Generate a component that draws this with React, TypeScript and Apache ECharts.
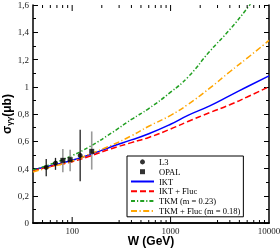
import React, { useEffect, useRef } from 'react';
import * as echarts from 'echarts';

// W (GeV) sample points for the theory curves
const W_GRID = [40, 60, 100, 150, 250, 400, 600, 1000, 1500, 2500, 4000, 6000, 10000];
const IKT = [0.39, 0.42, 0.46, 0.5, 0.56, 0.61, 0.655, 0.725, 0.79, 0.86, 0.935, 1.0, 1.08];
const IKT_FLUC = [0.385, 0.415, 0.45, 0.49, 0.545, 0.59, 0.628, 0.69, 0.745, 0.81, 0.868, 0.925, 1.0];
const TKM_W = [40, 60, 100, 150, 250, 400, 600, 1000, 1500, 2500, 4000, 6000, 6500];
const TKM = [0.39, 0.43, 0.495, 0.56, 0.66, 0.76, 0.84, 0.96, 1.07, 1.26, 1.42, 1.575, 1.61];
const TKM_FLUC = [0.375, 0.41, 0.455, 0.505, 0.57, 0.64, 0.71, 0.79, 0.87, 0.99, 1.11, 1.21, 1.34];

// Data points: W, sigma, error-bar low/high
const L3_W = [54.5, 67.7, 120.6];
const L3_S = [0.408, 0.44, 0.496];
const L3_LO = [0.343, 0.39, 0.306];
const L3_HI = [0.47, 0.478, 0.684];
const OPAL_W = [80.4, 95.4, 158];
const OPAL_S = [0.46, 0.465, 0.526];
const OPAL_LO = [0.372, 0.379, 0.392];
const OPAL_HI = [0.543, 0.538, 0.672];

// Axis ticks
const X_MAJOR = [100, 1000];
const X_MINOR_BOTTOM = [50, 60, 70, 80, 90, 300, 400, 500, 600, 700, 800, 900, 3000, 4000, 5000, 6000, 7000, 8000, 9000];
const X_MINOR_TOP = [50, 60, 70, 80, 90, 200, 300, 400, 500, 600, 700, 800, 900, 2000, 3000, 4000, 5000, 6000, 7000, 8000, 9000];
const X_LABELS = [100, 1000, 10000];

const SERIF = 'Liberation Serif';
const SANS = 'Liberation Sans';
const HIDE_SYMBOL = { color: 'rgba(0,0,0,0)', borderWidth: 0, opacity: 0 };

export default function App() {
  const ref = useRef<HTMLDivElement>(null);
  useEffect(() => {
    document.body.style.margin = '0';
    if (!ref.current) return;
    const chart = echarts.init(ref.current, undefined, { renderer: 'svg' });

    const errRender = (color: string, width: number) => (params: any, api: any) => {
      const x = api.value(0);
      const p1 = api.coord([x, api.value(1)]);
      const p2 = api.coord([x, api.value(2)]);
      return {
        type: 'line',
        shape: { x1: p1[0], y1: p1[1], x2: p2[0], y2: p2[1] },
        style: { stroke: color, lineWidth: width },
      };
    };

    const tickData = [
      ...X_MAJOR.map((v) => [v, 0, 1, 1]),
      ...X_MINOR_BOTTOM.map((v) => [v, 0, 0, 0]),
      ...X_MINOR_TOP.map((v) => [v, 0, 0, 1]),
    ];

    const tickRender = (params: any, api: any) => {
      const v = api.value(0);
      const major = api.value(2) === 1;
      const both = api.value(3) === 1;
      const b = api.coord([v, 0]);
      const t = api.coord([v, 1.6]);
      const len = major ? 6 : 3;
      const children: any[] = [];
      const stroke = { stroke: '#000', lineWidth: 1 };
      if (major || !both) {
        children.push({ type: 'line', shape: { x1: b[0], y1: b[1], x2: b[0], y2: b[1] - len }, style: stroke });
      }
      if (major || both) {
        children.push({ type: 'line', shape: { x1: t[0], y1: t[1], x2: t[0], y2: t[1] + len }, style: stroke });
      }
      return { type: 'group', children };
    };

    const yAxisBase = {
      type: 'value',
      min: 0,
      max: 1.6,
      interval: 0.2,
      splitLine: { show: false },
      axisLine: { show: true, lineStyle: { color: '#000', width: 1.5 } },
      axisTick: { show: true, inside: true, length: 5, lineStyle: { color: '#000', width: 1 } },
      minorTick: { show: true, splitNumber: 2, length: 3, lineStyle: { color: '#000', width: 1 } },
    };

    const option: any = {
      animation: false,
      grid: { left: 33, right: 11, top: 5, bottom: 26, containLabel: false, outerBoundsMode: 'none' },
      legend: {
        orient: 'vertical',
        left: 127,
        top: 156,
        itemWidth: 23,
        itemHeight: 5,
        itemGap: 0,
        padding: [1, 3, 1, 3],
        borderColor: '#000',
        borderWidth: 1,
        backgroundColor: '#fff',
        textStyle: { fontFamily: SERIF, fontSize: 8.5, color: '#000', lineHeight: 9.8 },
        data: [
          { name: 'L3', icon: 'circle' },
          { name: 'OPAL', icon: 'path://M0,0L10,0L10,10L0,10Z' },
          { name: 'IKT', itemStyle: HIDE_SYMBOL },
          { name: 'IKT + Fluc', itemStyle: HIDE_SYMBOL },
          { name: 'TKM (m = 0.23)', itemStyle: HIDE_SYMBOL },
          { name: 'TKM + Fluc (m = 0.18)', itemStyle: HIDE_SYMBOL },
        ],
      },
      xAxis: [
        {
          type: 'log',
          logBase: 10,
          min: 40,
          max: 10000,
          name: 'W (GeV)',
          nameLocation: 'middle',
          nameGap: 12,
          nameMoveOverlap: false,
          nameTextStyle: { fontFamily: SANS, fontWeight: 'bold', fontSize: 12, color: '#000' },
          splitLine: { show: false },
          axisLine: { show: true, lineStyle: { color: '#000', width: 1.5 } },
          axisTick: { show: false },
          axisLabel: {
            fontFamily: SERIF,
            fontSize: 9,
            color: '#222',
            margin: 3,
            showMinLabel: false,
            hideOverlap: false,
            formatter: (v: number) => {
              const r = Math.round(v);
              return X_LABELS.indexOf(r) >= 0 ? String(r) : '';
            },
          },
        },
        {
          type: 'log',
          logBase: 10,
          min: 40,
          max: 10000,
          position: 'top',
          splitLine: { show: false },
          axisLine: { show: true, lineStyle: { color: '#000', width: 1.5 } },
          axisTick: { show: false },
          axisLabel: { show: false },
        },
      ],
      yAxis: [
        {
          ...yAxisBase,
          position: 'left',
          name: '{s|σ}{g|γγ}{s|(μb)}',
          nameLocation: 'middle',
          nameGap: 20,
          nameMoveOverlap: false,
          nameTextStyle: {
            rich: {
              s: { fontFamily: SANS, fontWeight: 'bold', fontSize: 12, color: '#000' },
              g: { fontFamily: SANS, fontWeight: 'bold', fontSize: 8, color: '#000', verticalAlign: 'bottom', padding: [4, 0, 0, 0] },
            },
          },
          axisLabel: {
            fontFamily: SERIF,
            fontSize: 9,
            color: '#222',
            margin: 4,
            formatter: (v: number) => (v === 0 ? '0' : String(+v.toFixed(1)).replace('.', ',')),
          },
        },
        {
          ...yAxisBase,
          position: 'right',
          axisLabel: { show: false },
        },
      ],
      series: [
        {
          type: 'custom',
          silent: true,
          xAxisIndex: 0,
          yAxisIndex: 0,
          clip: false,
          renderItem: tickRender,
          encode: { x: 0, y: 1 },
          data: tickData,
          z: 5,
        },
        {
          name: 'IKT',
          type: 'line',
          data: W_GRID.map((w, i) => [w, IKT[i]]),
          smooth: true,
          symbol: 'none',
          lineStyle: { color: '#0000ff', width: 1.5 },
          itemStyle: { color: '#0000ff' },
        },
        {
          name: 'IKT + Fluc',
          type: 'line',
          data: W_GRID.map((w, i) => [w, IKT_FLUC[i]]),
          smooth: true,
          symbol: 'none',
          lineStyle: { color: '#ff0000', width: 1.5, type: [6, 3] },
          itemStyle: { color: '#ff0000' },
        },
        {
          name: 'TKM (m = 0.23)',
          type: 'line',
          data: TKM_W.map((w, i) => [w, TKM[i]]),
          smooth: true,
          symbol: 'none',
          lineStyle: { color: '#22a022', width: 1.5, type: [4, 2, 1.2, 2] },
          itemStyle: { color: '#22a022' },
        },
        {
          name: 'TKM + Fluc (m = 0.18)',
          type: 'line',
          data: W_GRID.map((w, i) => [w, TKM_FLUC[i]]),
          smooth: true,
          symbol: 'none',
          lineStyle: { color: '#ffa500', width: 1.5, type: [6, 2.5, 1.2, 2.5] },
          itemStyle: { color: '#ffa500' },
        },
        {
          type: 'custom',
          silent: true,
          renderItem: errRender('#222', 1.3),
          encode: { x: 0, y: [1, 2] },
          data: L3_W.map((w, i) => [w, L3_LO[i], L3_HI[i]]),
          z: 6,
        },
        {
          type: 'custom',
          silent: true,
          renderItem: errRender('#9a9a9a', 1.6),
          encode: { x: 0, y: [1, 2] },
          data: OPAL_W.map((w, i) => [w, OPAL_LO[i], OPAL_HI[i]]),
          z: 6,
        },
        {
          name: 'L3',
          type: 'scatter',
          symbol: 'circle',
          symbolSize: 5,
          itemStyle: { color: '#000' },
          data: L3_W.map((w, i) => [w, L3_S[i]]),
          z: 7,
        },
        {
          name: 'OPAL',
          type: 'scatter',
          symbol: 'rect',
          symbolSize: 5,
          itemStyle: { color: '#000' },
          data: OPAL_W.map((w, i) => [w, OPAL_S[i]]),
          z: 7,
        },
      ],
    };

    chart.setOption(option);
    return () => chart.dispose();
  }, []);

  return <div ref={ref} style={{ position: 'fixed', left: 0, top: 0, width: 280, height: 249 }} />;
}
